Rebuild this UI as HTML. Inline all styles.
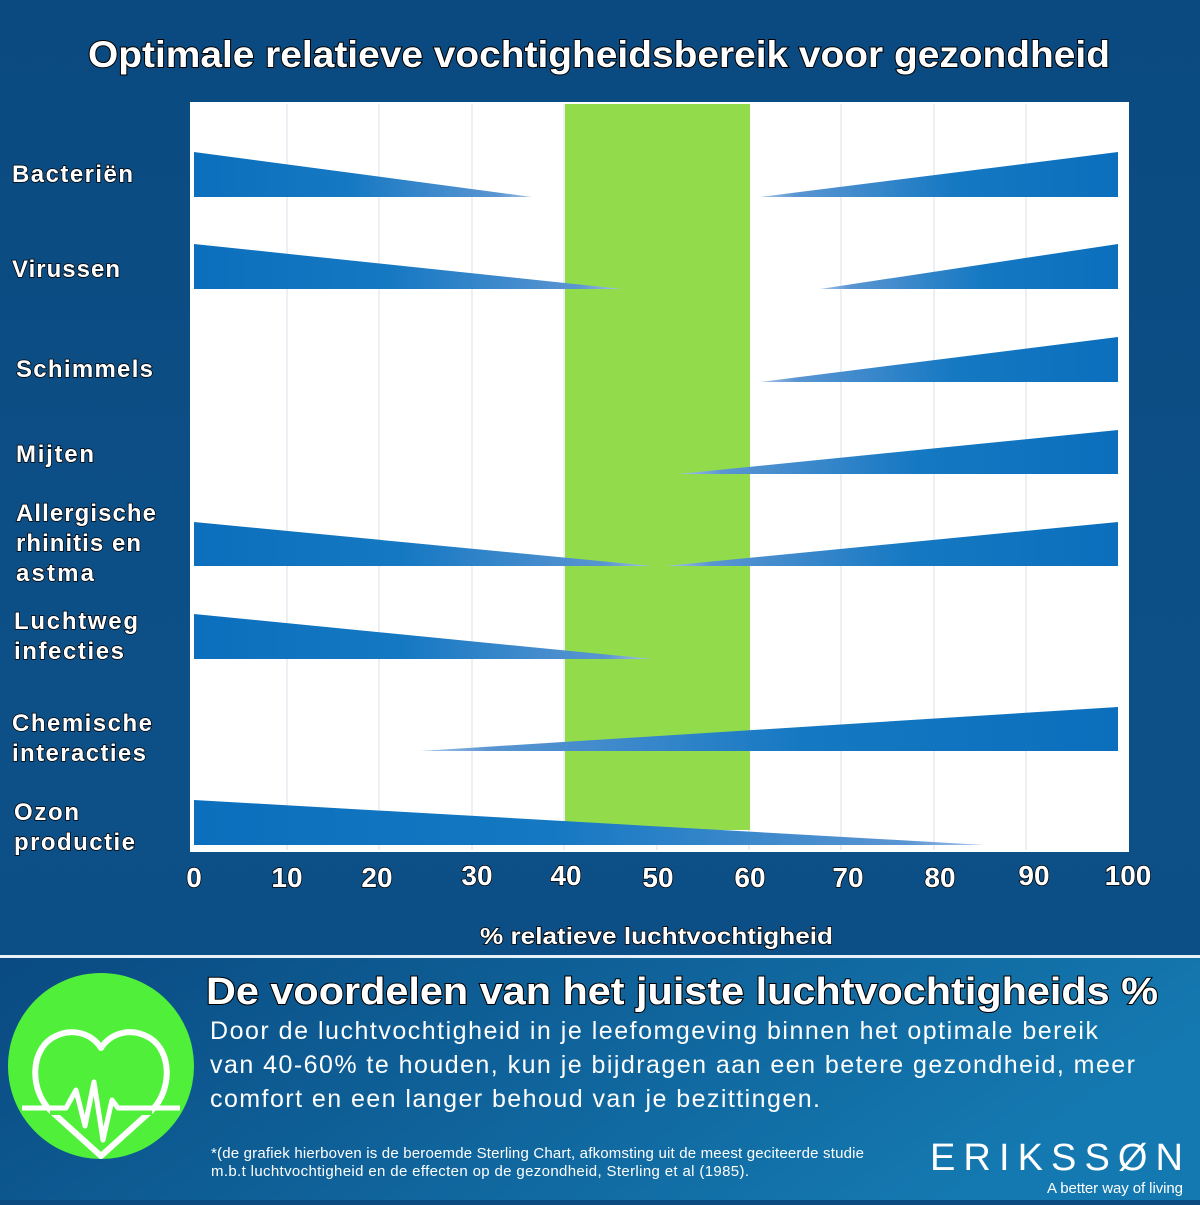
<!DOCTYPE html>
<html><head><meta charset="utf-8"><style>
html,body{margin:0;padding:0}
body{width:1200px;height:1200px;overflow:hidden;background:linear-gradient(180deg,#0a4a80 0%,#0d5088 60%,#0c4f86 80%);font-family:"Liberation Sans",sans-serif}
</style></head><body>
<svg width="1200" height="1200" viewBox="0 0 1200 1200" xmlns="http://www.w3.org/2000/svg">
<defs>
<linearGradient id="bg2" x1="0" y1="0" x2="1" y2="0.3"><stop offset="0" stop-color="#0a4a82"/><stop offset="1" stop-color="#1479b0"/></linearGradient>
<linearGradient id="gl" x1="0" y1="0" x2="1" y2="0"><stop offset="0" stop-color="#0b6fbd"/><stop offset="0.45" stop-color="#1478c2"/><stop offset="0.9" stop-color="#5a95d2"/><stop offset="1" stop-color="#a9c6e8"/></linearGradient>
<linearGradient id="gr" x1="1" y1="0" x2="0" y2="0"><stop offset="0" stop-color="#0b6fbd"/><stop offset="0.45" stop-color="#1478c2"/><stop offset="0.9" stop-color="#5a95d2"/><stop offset="1" stop-color="#a9c6e8"/></linearGradient>
</defs>
<rect x="0" y="958" width="1200" height="242" fill="url(#bg2)"/>
<rect x="0" y="955" width="1200" height="3" fill="#e8f0f8"/>
<g font-weight="bold" fill="#fff" stroke="#000" stroke-width="2" paint-order="stroke">
<text x="88" y="67" font-size="37" textLength="1022" lengthAdjust="spacingAndGlyphs">Optimale relatieve vochtigheidsbereik voor gezondheid</text>
</g>
<rect x="190" y="102" width="939" height="750" fill="#fff"/>
<g stroke="#eceff3" stroke-width="2">
<line x1="287" y1="104" x2="287" y2="850"/><line x1="379" y1="104" x2="379" y2="850"/><line x1="472" y1="104" x2="472" y2="850"/><line x1="564" y1="104" x2="564" y2="850"/><line x1="657" y1="104" x2="657" y2="850"/><line x1="749" y1="104" x2="749" y2="850"/><line x1="841" y1="104" x2="841" y2="850"/><line x1="934" y1="104" x2="934" y2="850"/><line x1="1026" y1="104" x2="1026" y2="850"/>
</g>
<rect x="565" y="104" width="185" height="726" fill="#92dc4c"/>
<polygon points="194,152 194,197 532,197" fill="url(#gl)"/>
<polygon points="194,244 194,289 622,289" fill="url(#gl)"/>
<polygon points="194,522 194,566 652,566" fill="url(#gl)"/>
<polygon points="194,614 194,659 652,659" fill="url(#gl)"/>
<polygon points="194,800 194,845 985,845" fill="url(#gl)"/>
<polygon points="760,197 1118,152 1118,197" fill="url(#gr)"/>
<polygon points="820,289 1118,244 1118,289" fill="url(#gr)"/>
<polygon points="760,382 1118,337 1118,382" fill="url(#gr)"/>
<polygon points="678,474 1118,430 1118,474" fill="url(#gr)"/>
<polygon points="665,566 1118,522 1118,566" fill="url(#gr)"/>
<polygon points="420,751 1118,707 1118,751" fill="url(#gr)"/>
<g font-weight="bold" fill="#fff" stroke="#000" stroke-width="1.5" paint-order="stroke" font-size="24" lengthAdjust="spacingAndGlyphs">
<text x="12" y="182" textLength="121">Bacteriën</text>
<text x="12" y="277" textLength="108">Virussen</text>
<text x="16" y="377" textLength="137">Schimmels</text>
<text x="16" y="462" textLength="78">Mijten</text>
<text x="16" y="521" textLength="140">Allergische</text>
<text x="16" y="551" textLength="125">rhinitis en</text>
<text x="16" y="581" textLength="78">astma</text>
<text x="14" y="629" textLength="124">Luchtweg</text>
<text x="14" y="659" textLength="110">infecties</text>
<text x="12" y="731" textLength="140">Chemische</text>
<text x="12" y="761" textLength="134">interacties</text>
<text x="14" y="820" textLength="65">Ozon</text>
<text x="14" y="850" textLength="121">productie</text>
</g>
<g font-weight="bold" fill="#fff" stroke="#000" stroke-width="1.5" paint-order="stroke" font-size="28" text-anchor="middle">
<text x="194" y="887">0</text><text x="287" y="887">10</text><text x="377" y="887">20</text><text x="477" y="885">30</text><text x="566" y="885">40</text><text x="658" y="887">50</text><text x="750" y="887">60</text><text x="848" y="887">70</text><text x="940" y="887">80</text><text x="1034" y="885">90</text><text x="1128" y="885">100</text>
</g>
<g font-weight="bold" fill="#fff" stroke="#000" stroke-width="1.5" paint-order="stroke">
<text x="480" y="944" font-size="23" textLength="353" lengthAdjust="spacingAndGlyphs">% relatieve luchtvochtigheid</text>
</g>
<circle cx="101" cy="1066" r="93" fill="#50f03a"/>
<g fill="none" stroke="#fff" stroke-width="5" stroke-linejoin="round">
<path d="M101,1156 L50,1110 C30,1090 30,1052 52,1038 C72,1026 92,1034 101,1048 C110,1034 130,1026 150,1038 C172,1052 172,1090 152,1110 Z" stroke-width="6"/>
<path d="M50,1110 L152,1110" stroke="#50f03a" stroke-width="10"/>
<path d="M22,1108 L66,1108 L76,1090 L85,1126 L94,1082 L103,1140 L112,1100 L118,1108 L180,1108"/>
</g>
<g font-weight="bold" fill="#fff" stroke="#000" stroke-width="2" paint-order="stroke">
<text x="206" y="1004" font-size="38" textLength="952" lengthAdjust="spacingAndGlyphs">De voordelen van het juiste luchtvochtigheids %</text>
</g>
<g fill="#fff" font-size="25" lengthAdjust="spacingAndGlyphs">
<text x="210" y="1039" textLength="888">Door de luchtvochtigheid in je leefomgeving binnen het optimale bereik</text>
<text x="210" y="1073" textLength="925">van 40-60% te houden, kun je bijdragen aan een betere gezondheid, meer</text>
<text x="210" y="1107" textLength="610">comfort en een langer behoud van je bezittingen.</text>
<text x="211" y="1158" font-size="15" textLength="653">*(de grafiek hierboven is de beroemde Sterling Chart, afkomsting uit de meest geciteerde studie</text>
<text x="211" y="1176" font-size="15" textLength="538">m.b.t luchtvochtigheid en de effecten op de gezondheid, Sterling et al (1985).</text>
<text x="930" y="1170" font-size="38" textLength="253">ERIKSSØN</text>
<text x="1047" y="1193" font-size="15" textLength="136">A better way of living</text>
</g>
</svg>
</body></html>
